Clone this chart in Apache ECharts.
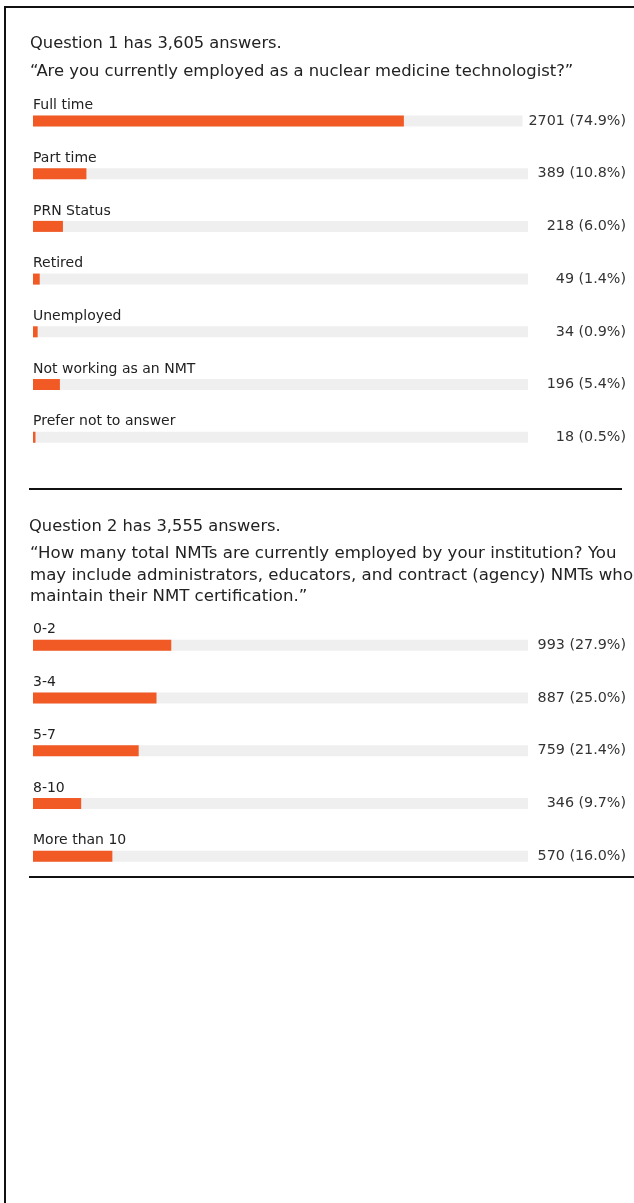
<!DOCTYPE html>
<html>
<head>
<meta charset="utf-8">
<script src="https://cdn.jsdelivr.net/npm/echarts@6/dist/echarts.min.js"></script>
<style>
  html, body { margin: 0; padding: 0; background: #fff; }
  #chart { width: 634px; height: 1203px; }
</style>
</head>
<body>
<div id="chart"></div>
<script>
// question 1
var q1Total = 3605
var q1Categories = ['Full time', 'Part time', 'PRN Status', 'Retired', 'Unemployed', 'Not working as an NMT', 'Prefer not to answer']
var q1Counts = [2701, 389, 218, 49, 34, 196, 18]
var q1Percents = ['74.9%', '10.8%', '6.0%', '1.4%', '0.9%', '5.4%', '0.5%']

// question 2
var q2Total = 3555
var q2Categories = ['0-2', '3-4', '5-7', '8-10', 'More than 10']
var q2Counts = [993, 887, 759, 346, 570]
var q2Percents = ['27.9%', '25.0%', '21.4%', '9.7%', '16.0%']

var FONT = '"DejaVu Sans", Arial, Helvetica, sans-serif'
var BAR_COLOR = '#f15a24'
var TRACK_COLOR = '#efefef'

function valueLabels (counts, percents) {
  return counts.map(function (c, i) { return c + ' (' + percents[i] + ')' })
}

function buildAxes (gridIndex, categories, counts, percents, total) {
  return {
    x: {
      type: 'value', gridIndex: gridIndex, min: 0, max: total, show: false
    },
    yLeft: {
      type: 'category', gridIndex: gridIndex, inverse: true, data: categories,
      axisLine: {show: false}, axisTick: {show: false}, splitLine: {show: false},
      axisLabel: {show: false}
    },
    yRight: {
      type: 'category', gridIndex: gridIndex, inverse: true, position: 'right', z: 5,
      data: valueLabels(counts, percents),
      axisLine: {show: false}, axisTick: {show: false}, splitLine: {show: false},
      // white box behind the count so the grey track stops short of it
      axisLabel: {
        margin: 98, interval: 0, align: 'right', verticalAlign: 'middle',
        backgroundColor: '#fff', padding: [4, 0, 2, 6],
        fontFamily: FONT, fontSize: 14.3, color: '#333'
      }
    }
  }
}

var a1 = buildAxes(0, q1Categories, q1Counts, q1Percents, q1Total)
var a2 = buildAxes(1, q2Categories, q2Counts, q2Percents, q2Total)

function barSeries (idx, counts) {
  return {
    type: 'bar',
    xAxisIndex: idx,
    yAxisIndex: idx * 2,
    data: counts,
    barWidth: 11,
    silent: true,
    itemStyle: {color: BAR_COLOR},
    showBackground: true,
    backgroundStyle: {color: TRACK_COLOR},
    // category name sits just above the bar, left aligned with it
    label: {
      show: true,
      position: [0, -10],
      align: 'left',
      verticalAlign: 'middle',
      formatter: '{b}',
      fontFamily: FONT,
      fontSize: 14,
      color: '#222'
    }
  }
}

function text (x, y, str, size, extra) {
  var style = {
    text: str,
    font: size + 'px ' + FONT,
    fill: '#222',
    textAlign: 'left',
    textVerticalAlign: 'middle'
  }
  if (extra) Object.assign(style, extra)
  return {type: 'text', x: x, y: y, silent: true, style: style}
}

function hline (x1, x2, y, w) {
  return {type: 'line', silent: true, shape: {x1: x1, y1: y, x2: x2, y2: y}, style: {stroke: '#111', lineWidth: w}}
}

var chart = echarts.init(document.getElementById('chart'))
chart.setOption({
  animation: false,
  backgroundColor: '#fff',
  grid: [
    {left: 33, width: 495, top: 94.6, height: 369},
    {left: 33, width: 495, top: 619, height: 263.5}
  ],
  xAxis: [a1.x, a2.x],
  yAxis: [a1.yLeft, a1.yRight, a2.yLeft, a2.yRight],
  series: [barSeries(0, q1Counts), barSeries(1, q2Counts)],
  graphic: [
    // frame
    {type: 'line', silent: true, shape: {x1: 5, y1: 7, x2: 634, y2: 7}, style: {stroke: '#111', lineWidth: 2}},
    {type: 'line', silent: true, shape: {x1: 5, y1: 6, x2: 5, y2: 1203}, style: {stroke: '#111', lineWidth: 2}},
    text(30, 44, 'Question 1 has 3,605 answers.', 16.3),
    text(30, 72, '\u201cAre you currently employed as a nuclear medicine technologist?\u201d', 16.4),
    hline(29, 622, 489, 2),
    text(29, 527, 'Question 2 has 3,555 answers.', 16.3),
    text(30, 575.5, '\u201cHow many total NMTs are currently employed by your institution? You\nmay include administrators, educators, and contract (agency) NMTs who\nmaintain their NMT certification.\u201d', 16.6, {lineHeight: 21.5}),
    hline(29, 634, 877, 2)
  ]
})
</script>
</body>
</html>
